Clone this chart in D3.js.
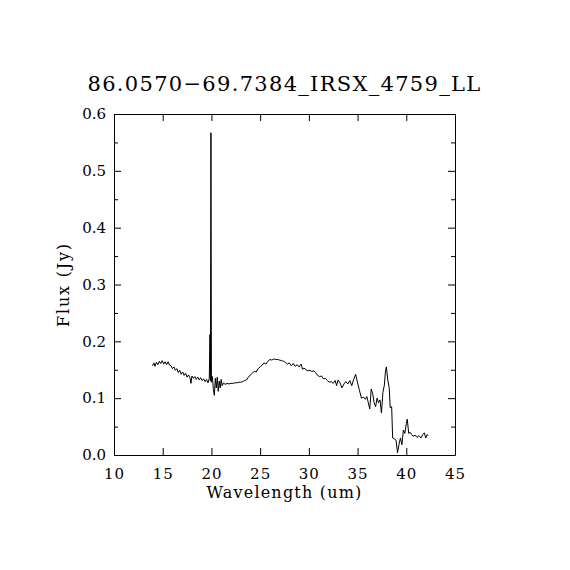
<!DOCTYPE html>
<html>
<head>
<meta charset="utf-8">
<script src="https://cdn.jsdelivr.net/npm/d3@7"></script>
<style>
  html, body { margin: 0; padding: 0; background: #fff; }
  svg { display: block; }
  text { font-family: "DejaVu Serif", "Liberation Serif", serif; fill: #000; }
</style>
</head>
<body>
<svg id="chart" width="570" height="570"></svg>
<script>
// spectrum
const wavelength = [
  13.95, 14.1, 14.2, 14.35, 14.5, 14.65, 14.8, 14.95, 15.1, 15.25, 15.4, 15.55, 15.7, 15.85,
  16.0, 16.15, 16.3, 16.45, 16.6, 16.75, 16.9, 17.05, 17.2, 17.35, 17.5, 17.65, 17.8, 17.9,
  18.0, 18.15, 18.3, 18.45, 18.6, 18.75, 18.9, 19.05, 19.2, 19.35, 19.5, 19.65, 19.78, 19.85,
  19.9, 19.95, 20.0, 20.1, 20.2, 20.3, 20.4, 20.5, 20.6, 20.7, 20.8, 20.9, 21.0, 21.1, 21.25,
  21.4, 21.6, 21.8, 22.0, 22.2, 22.4, 22.6, 22.8, 23.0, 23.2, 23.4, 23.6, 23.8, 24.0, 24.2,
  24.4, 24.6, 24.8, 25.0, 25.2, 25.4, 25.6, 25.8, 26.0, 26.2, 26.4, 26.6, 26.8, 27.0, 27.2,
  27.4, 27.6, 27.8, 28.0, 28.2, 28.4, 28.6, 28.8, 29.0, 29.2, 29.35, 29.5, 29.7, 29.9, 30.1,
  30.3, 30.5, 30.7, 30.9, 31.1, 31.3, 31.5, 31.7, 31.9, 32.1, 32.3, 32.5, 32.7, 32.85, 33.0,
  33.2, 33.4, 33.6, 33.8, 34.0, 34.2, 34.4, 34.6, 34.8, 35.0, 35.2, 35.4, 35.6, 35.8, 35.95,
  36.1, 36.25, 36.4, 36.55, 36.7, 36.85, 37.0, 37.15, 37.3, 37.45, 37.6, 37.75, 37.85, 37.95,
  38.1, 38.25, 38.35, 38.5, 38.6, 38.8, 38.95, 39.1, 39.25, 39.4, 39.55, 39.7, 39.85, 40.0,
  40.1, 40.25, 40.4, 40.55, 40.7, 40.9, 41.1, 41.3, 41.5, 41.7, 41.85, 42.0, 42.15, 42.25
];
const flux = [
  0.157, 0.162, 0.156, 0.163, 0.159, 0.165, 0.161, 0.166, 0.160, 0.164, 0.159, 0.164, 0.158, 0.157,
  0.152, 0.155, 0.149, 0.152, 0.145, 0.149, 0.142, 0.146, 0.140, 0.144, 0.137, 0.141, 0.136, 0.126,
  0.139, 0.135, 0.138, 0.133, 0.137, 0.132, 0.136, 0.131, 0.134, 0.129, 0.133, 0.127, 0.135, 0.212,
  0.130, 0.567, 0.128, 0.138, 0.115, 0.105, 0.135, 0.118, 0.137, 0.112, 0.130, 0.118, 0.133, 0.122, 0.127,
  0.124, 0.126, 0.125, 0.126, 0.126, 0.127, 0.127, 0.128, 0.128, 0.129, 0.131, 0.132, 0.137, 0.141, 0.144,
  0.147, 0.146, 0.152, 0.155, 0.158, 0.162, 0.160, 0.165, 0.168, 0.167, 0.169, 0.168, 0.168, 0.167, 0.166,
  0.165, 0.163, 0.160, 0.162, 0.157, 0.161, 0.156, 0.159, 0.155, 0.160, 0.151, 0.153, 0.150, 0.148, 0.149,
  0.147, 0.148, 0.145, 0.140, 0.138, 0.139, 0.134, 0.135, 0.131, 0.128, 0.129, 0.126, 0.131, 0.122, 0.132,
  0.127, 0.118, 0.125, 0.129, 0.125, 0.131, 0.122, 0.133, 0.142, 0.127, 0.113, 0.100, 0.102, 0.098, 0.103,
  0.092, 0.081, 0.116, 0.108, 0.092, 0.085, 0.100, 0.092, 0.097, 0.074, 0.110, 0.123, 0.145, 0.155,
  0.132, 0.118, 0.083, 0.085, 0.030, 0.028, 0.026, 0.004, 0.018, 0.030, 0.018, 0.044, 0.038, 0.055,
  0.063, 0.038, 0.040, 0.036, 0.033, 0.035, 0.031, 0.034, 0.030, 0.036, 0.039, 0.030, 0.036, 0.034
];
const xTicks = [10, 15, 20, 25, 30, 35, 40, 45];
const yTicks = [0.0, 0.1, 0.2, 0.3, 0.4, 0.5, 0.6];
const yMinorTicks = [0.05, 0.15, 0.25, 0.35, 0.45, 0.55];
const title = "86.0570\u221269.7384_IRSX_4759_LL";

const plotLeft = 114, plotRight = 455, plotTop = 114, plotBottom = 455;
const svg = d3.select("#chart");

const x = d3.scaleLinear().domain([10, 45]).range([plotLeft, plotRight]);
const y = d3.scaleLinear().domain([0, 0.6]).range([plotBottom, plotTop]);

const major = 7, minor = 4;

function tickStyle(g) {
  g.selectAll(".tick line").attr("stroke", "#000").attr("stroke-width", 1);
  g.select(".domain").attr("stroke", "#000").attr("stroke-width", 1);
}

// bottom axis with labels
svg.append("g")
  .attr("transform", `translate(0,${plotBottom})`)
  .call(d3.axisBottom(x).tickValues(xTicks).tickSize(-major).tickSizeOuter(0).tickPadding(13).tickFormat(d3.format("d")))
  .call(tickStyle)
  .call(g => g.selectAll("text").attr("font-size", 15).attr("font-family", "DejaVu Serif").attr("letter-spacing", 1));

// top axis, ticks only
svg.append("g")
  .attr("transform", `translate(0,${plotTop})`)
  .call(d3.axisTop(x).tickValues(xTicks).tickSize(-major).tickSizeOuter(0).tickFormat(""))
  .call(tickStyle);

// left axis with labels
svg.append("g")
  .attr("transform", `translate(${plotLeft},0)`)
  .call(d3.axisLeft(y).tickValues(yTicks).tickSize(-major).tickSizeOuter(0).tickPadding(8).tickFormat(d3.format(".1f")))
  .call(tickStyle)
  .call(g => g.selectAll("text").attr("font-size", 15).attr("font-family", "DejaVu Serif"));

svg.append("g")
  .attr("transform", `translate(${plotLeft},0)`)
  .call(d3.axisLeft(y).tickValues(yMinorTicks).tickSize(-minor).tickSizeOuter(0).tickFormat(""))
  .call(tickStyle)
  .call(g => g.select(".domain").remove());

// right axis, ticks only
svg.append("g")
  .attr("transform", `translate(${plotRight},0)`)
  .call(d3.axisRight(y).tickValues(yTicks).tickSize(-major).tickSizeOuter(0).tickFormat(""))
  .call(tickStyle);

svg.append("g")
  .attr("transform", `translate(${plotRight},0)`)
  .call(d3.axisRight(y).tickValues(yMinorTicks).tickSize(-minor).tickSizeOuter(0).tickFormat(""))
  .call(tickStyle)
  .call(g => g.select(".domain").remove());

// spectrum
const line = d3.line().x((d, i) => x(wavelength[i])).y(d => y(d));
svg.append("path")
  .datum(flux)
  .attr("d", line)
  .attr("fill", "none")
  .attr("stroke", "#000")
  .attr("stroke-width", 1);

// titles
svg.append("text")
  .attr("x", (plotLeft + plotRight) / 2)
  .attr("y", 91)
  .attr("text-anchor", "middle")
  .attr("font-size", 21)
  .attr("letter-spacing", 1.3)
  .text(title);

svg.append("text")
  .attr("x", (plotLeft + plotRight) / 2)
  .attr("y", 498)
  .attr("text-anchor", "middle")
  .attr("font-size", 16)
  .attr("letter-spacing", 1.2)
  .text("Wavelength (um)");

svg.append("text")
  .attr("transform", `translate(69,${(plotTop + plotBottom) / 2}) rotate(-90)`)
  .attr("text-anchor", "middle")
  .attr("font-size", 16)
  .attr("letter-spacing", 1.8)
  .text("Flux (Jy)");
</script>
</body>
</html>
